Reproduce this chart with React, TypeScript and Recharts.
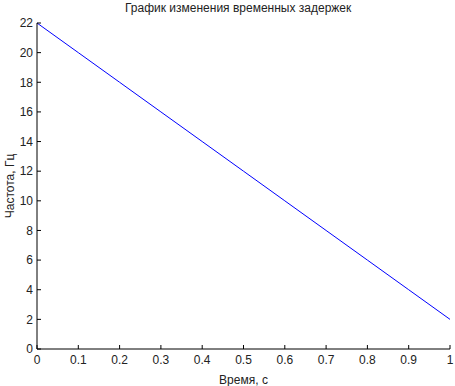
import { LineChart, Line, XAxis, YAxis } from "recharts"

const times = [0, 0.1, 0.2, 0.3, 0.4, 0.5, 0.6, 0.7, 0.8, 0.9, 1]
const freqs = [22, 20, 18, 16, 14, 12, 10, 8, 6, 4, 2]
const xTicks = [0, 0.1, 0.2, 0.3, 0.4, 0.5, 0.6, 0.7, 0.8, 0.9, 1]
const yTicks = [0, 2, 4, 6, 8, 10, 12, 14, 16, 18, 20, 22]

const data = times.map((t, i) => ({ t, f: freqs[i] }))

const font = "Arial, 'Liberation Sans', sans-serif"
const tickStyle = { fontSize: 12, fill: "#222", fontFamily: font }

export default function App() {
  return (
    <div style={{ position: "absolute", left: 0, top: 0, width: 455, height: 386, background: "#fff" }}>
      <div
        style={{
          position: "absolute",
          left: 125,
          top: 1,
          fontFamily: font,
          fontSize: 12,
          color: "#222",
          whiteSpace: "nowrap",
        }}
      >
        График изменения временных задержек
      </div>
      <LineChart width={455} height={386} data={data} margin={{ top: 23, right: 5, bottom: 0, left: 0 }}>
        <XAxis
          xAxisId="b"
          dataKey="t"
          type="number"
          domain={[0, 1]}
          ticks={xTicks}
          interval={0}
          tickSize={-4}
          tickMargin={10}
          height={37}
          stroke="#000"
          tick={tickStyle}
          tickFormatter={(v: number) => String(v)}
          label={{ value: "Время, с", position: "insideBottom", offset: 2, fontSize: 12, fill: "#222", fontFamily: font }}
        />
        <XAxis
          xAxisId="t"
          orientation="top"
          dataKey="t"
          type="number"
          domain={[0, 1]}
          ticks={xTicks}
          interval={0}
          tickSize={-4}
          height={0}
          stroke="#000"
          tickFormatter={() => ""}
        />
        <YAxis
          yAxisId="l"
          type="number"
          domain={[0, 22]}
          ticks={yTicks}
          interval={0}
          tickSize={-4}
          tickMargin={8}
          width={37}
          stroke="#000"
          tick={tickStyle}
          label={{ value: "Частота, Гц", angle: -90, position: "insideLeft", offset: 10, fontSize: 12, fill: "#222", fontFamily: font, style: { textAnchor: "middle" } }}
        />
        <YAxis
          yAxisId="r"
          orientation="right"
          type="number"
          domain={[0, 22]}
          ticks={yTicks}
          interval={0}
          tickSize={-4}
          width={0}
          stroke="#000"
          tickFormatter={() => ""}
        />
        <Line
          xAxisId="b"
          yAxisId="l"
          dataKey="f"
          stroke="#0000ff"
          strokeWidth={1}
          dot={false}
          isAnimationActive={false}
        />
      </LineChart>
    </div>
  )
}
